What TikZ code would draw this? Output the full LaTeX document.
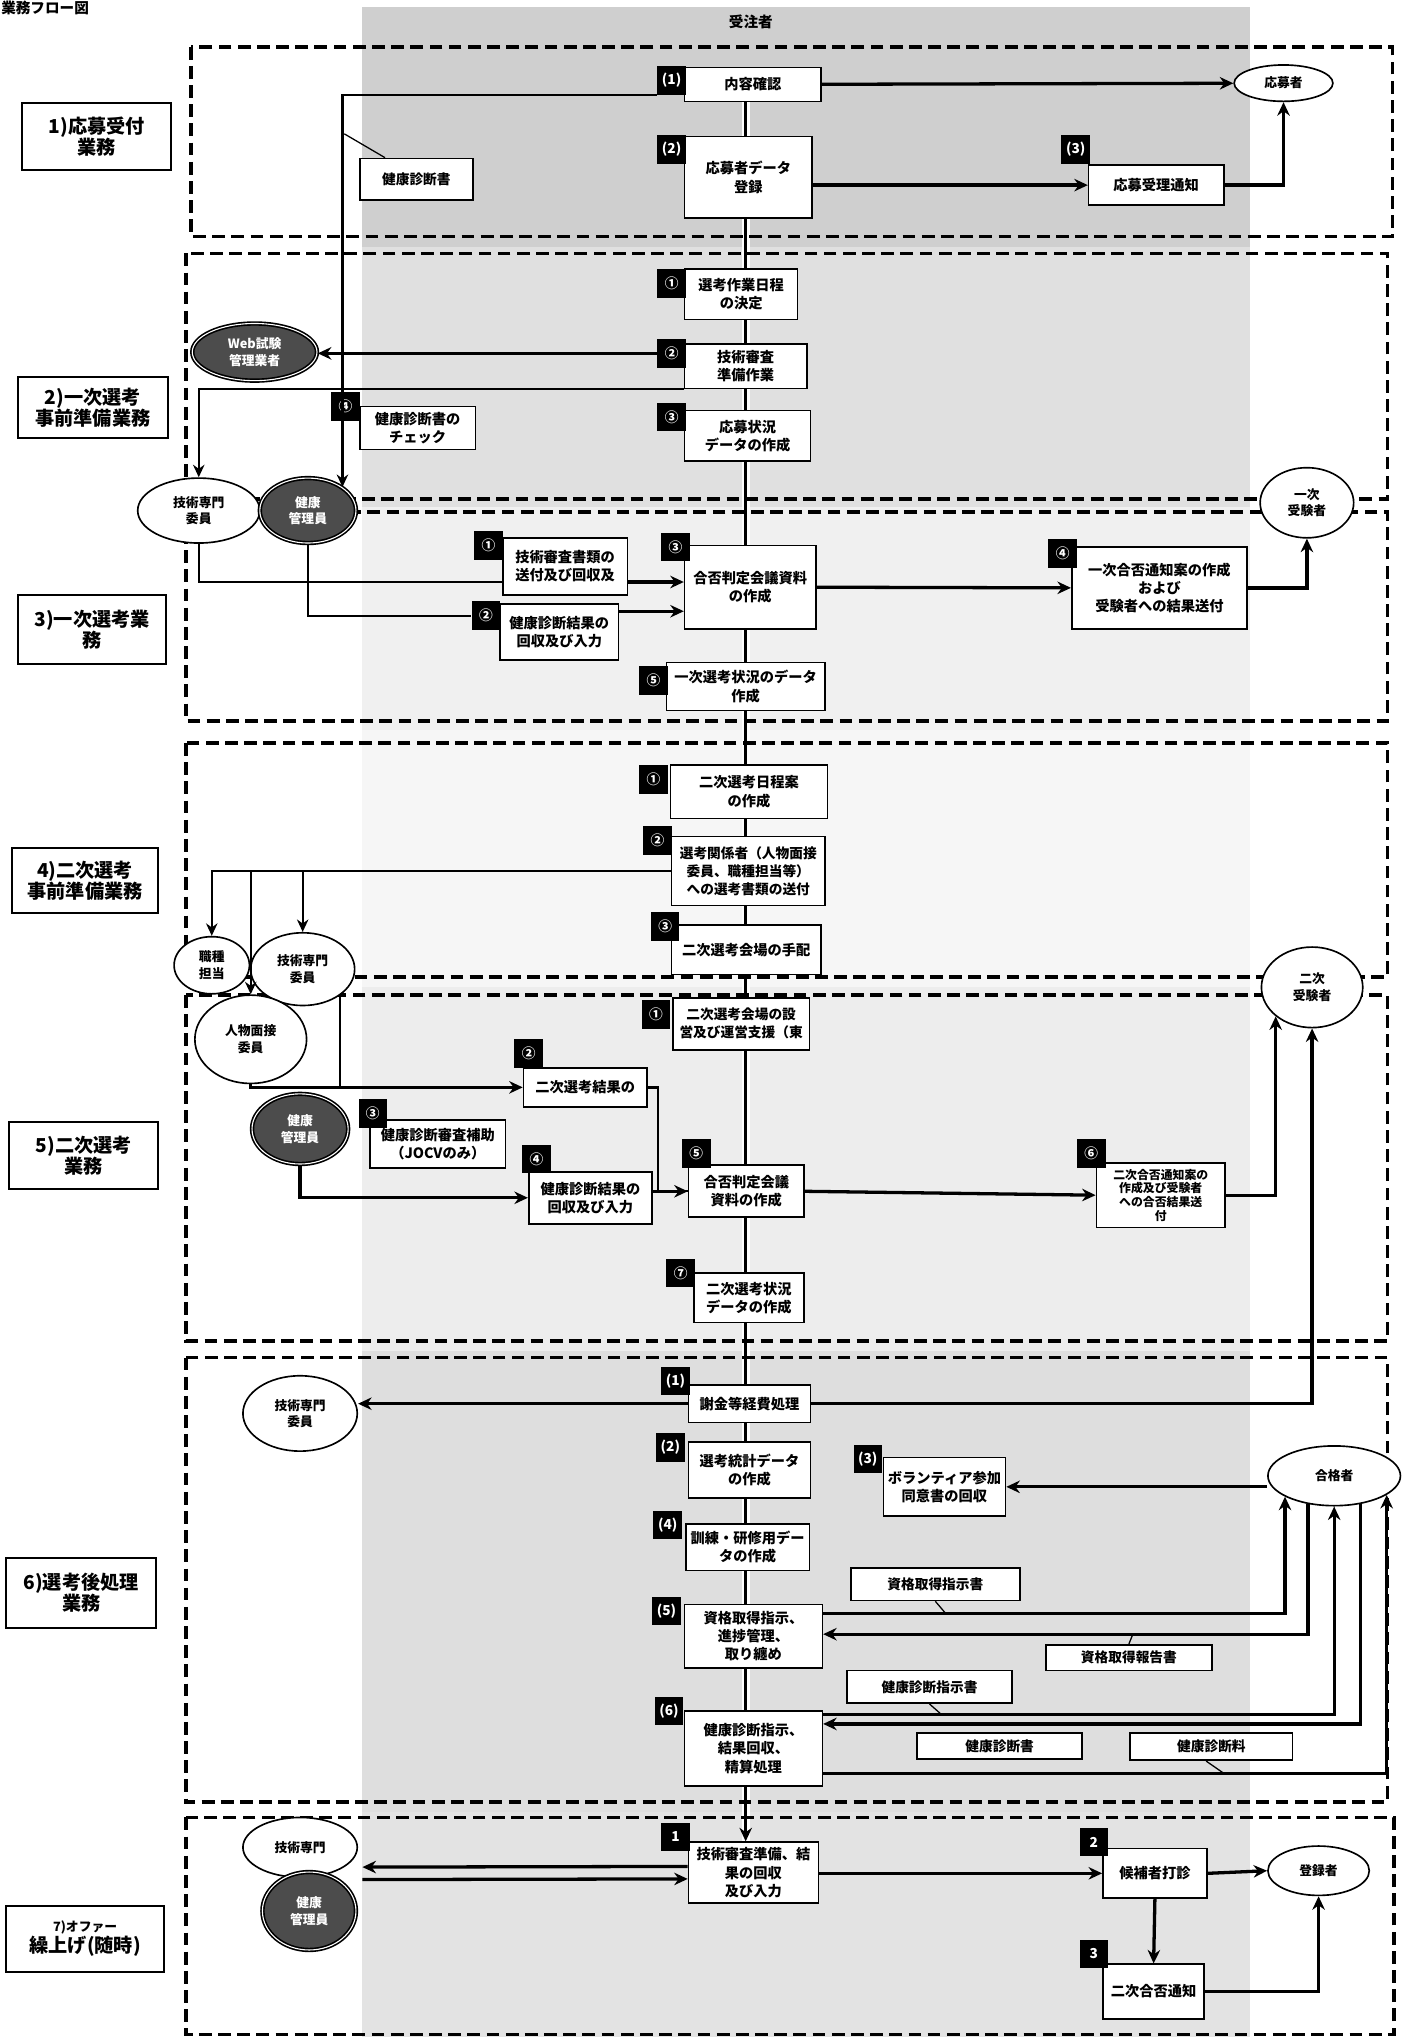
\documentclass[tikz,border=0pt]{standalone}
\usepackage{fontspec}
\setmainfont{Noto Sans CJK JP}
\usetikzlibrary{shapes.geometric,arrows.meta,backgrounds}
\tikzset{
  proc/.style={draw, line width=0.9pt, fill=white, align=center, inner sep=1pt, font=\bfseries\fontsize{7.8}{10}\selectfont},
  memo/.style={draw, line width=0.9pt, fill=white, align=center, inner sep=1pt, font=\bfseries\fontsize{7.5}{8}\selectfont},
  badge/.style={fill=black, text=white, minimum width=5.5mm, minimum height=5.5mm, inner sep=0pt, font=\bfseries\fontsize{7.5}{7.5}\selectfont},
  actor/.style={ellipse, draw, line width=0.9pt, fill=white, align=center, inner sep=0pt, font=\bfseries\fontsize{7}{9}\selectfont},
  darkactor/.style={actor, fill=gray!60!black, text=white, double=white, double distance=0.6pt},
  lane/.style={draw, line width=1.1pt, fill=white, align=center, inner sep=1pt, font=\bfseries\fontsize{10.5}{11.5}\selectfont},
  phase/.style={line width=2pt, dash pattern=on 7pt off 3.5pt},
  flow/.style={line width=1.8pt, -{Stealth[length=2.6mm, width=2.4mm]}},
  conn/.style={line width=1.3pt},
  headed/.style={-{Stealth[length=2.4mm, width=2.2mm]}},
  pointer/.style={line width=0.7pt}
}
\begin{document}
\begin{tikzpicture}[x=0.25mm, y=-0.25mm]
  \useasboundingbox (0,0) rectangle (1085,1568);
  % contractor band
  \begin{scope}[on background layer]
    \fill[white] (0,0) rectangle (1085,1568);
    \foreach \ya/\yb/\sh in {5/190/38, 190/390/24, 390/562/12, 562/760/7, 760/1040/14, 1040/1395/26, 1395/1568/22}
      \fill[gray!\sh] (279,\ya) rectangle (962,\yb);
  \end{scope}
  \node[anchor=north west, inner sep=0.5pt, font=\bfseries\fontsize{8}{8}\selectfont] (title) at (0,0) {業務フロー図};
  \node[font=\bfseries\fontsize{8}{8}\selectfont] (band) at (578,17) {受注者};

  % phases
  \draw[phase] (147,36) rectangle (1072,182);
  \draw[phase] (143,195) rectangle (1068,384);
  \draw[phase] (143,394) rectangle (1068,555);
  \draw[phase] (143,572) rectangle (1068,752);
  \draw[phase] (143,766) rectangle (1068,1032);
  \draw[phase] (143,1045) rectangle (1068,1387);
  \draw[phase] (143,1399) rectangle (1073,1566);

  % lane labels
  \node[lane, minimum width=28.75mm, minimum height=13mm] (lab1) at (74.5,105) {1)応募受付\\業務};
  \node[lane, minimum width=28.75mm, minimum height=11.75mm] (lab2) at (71.5,313.5) {2)一次選考\\事前準備業務};
  \node[lane, minimum width=28.5mm, minimum height=13.25mm] (lab3) at (71,484.5) {3)一次選考業\\務};
  \node[lane, minimum width=28.25mm, minimum height=12.5mm] (lab4) at (65.5,678) {4)二次選考\\事前準備業務};
  \node[lane, minimum width=28.75mm, minimum height=12.75mm] (lab5) at (64.5,889.5) {5)二次選考\\業務};
  \node[lane, minimum width=28.75mm, minimum height=13.5mm] (lab6) at (62.5,1226) {6)選考後処理\\業務};
  \node[lane, minimum width=30.25mm, minimum height=12.75mm] (lab7) at (65.5,1492.5) {{\fontsize{7}{8}\selectfont 7)オファー}\\繰上げ(随時)};

  % 1) application
  \node[proc, minimum width=26.25mm, minimum height=6.5mm] (p11) at (579.5,65) {内容確認};
  \node[badge] (b11) at (517,62) {(1)};
  \node[proc, minimum width=24.5mm, minimum height=15.75mm] (p12) at (576,136.5) {応募者データ\\登録};
  \node[badge] (b12) at (517,115) {(2)};
  \node[proc, minimum width=26mm, minimum height=7.75mm] (p13) at (890,142.5) {応募受理通知};
  \node[badge] (b13) at (828,115) {(3)};
  \node[actor, minimum width=19mm, minimum height=7mm] (a11) at (988,64) {応募者};
  \node[memo, minimum width=21.75mm, minimum height=8mm] (m11) at (320.5,138) {健康診断書};
  \coordinate (m11tip) at (265,103);
  \draw[flow] (p11) -- (a11);
  \draw[flow] (p12.east |- p13) -- (p13.west);
  \draw[flow] (p13.east) -| (a11.south);
  \draw[pointer] ([xshift=5mm]m11.north west) -- (m11tip);

  % 2) preparation of first selection
  \node[proc, minimum width=21.75mm, minimum height=9.75mm] (p21) at (570.5,226.5) {選考作業日程\\の決定};
  \node[badge] (b21) at (517,218) {①};
  \node[proc, minimum width=23.5mm, minimum height=8.5mm] (p22) at (574,282) {技術審査\\準備作業};
  \node[badge] (b22) at (517,272) {②};
  \node[proc, minimum width=24.25mm, minimum height=9.75mm] (p23) at (575.5,335.5) {応募状況\\データの作成};
  \node[badge] (b23) at (517,321) {③};
  \node[proc, minimum width=22.25mm, minimum height=8.25mm] (p24) at (321.5,329.5) {健康診断書の\\チェック};
  \node[badge] (b24) at (266,313) {④};
  \node[darkactor, minimum width=24mm, minimum height=11mm] (web) at (196,271) {Web試験\\管理業者};
  \node[actor, minimum width=23.5mm, minimum height=12.5mm] (t21) at (153,393) {技術専門\\委員};
  \node[darkactor, minimum width=18.5mm, minimum height=12.5mm] (h21) at (237,393) {健康\\管理員};
  \node[actor, minimum width=18mm, minimum height=13.5mm] (j1) at (1006,387) {一次\\受験者};
  \draw[conn, headed] ([yshift=-2.75mm]b11.west) -| (h21.north east);
  \draw[flow] (b22.west) -- (web.east |- b22.west);
  \draw[conn, headed] (p22.south west) -| (t21.north);

  % 3) first selection
  \node[proc, minimum width=24mm, minimum height=11mm] (p31) at (435,436) {技術審査書類の\\送付及び回収及};
  \node[badge] (b31) at (376,420) {①};
  \node[proc, minimum width=22.75mm, minimum height=10.75mm] (p32) at (430.5,486.5) {健康診断結果の\\回収及び入力};
  \node[badge] (b32) at (374,474) {②};
  \node[proc, minimum width=25.25mm, minimum height=16mm] (p33) at (577.5,452) {合否判定会議資料\\の作成};
  \node[badge] (b33) at (520,421) {③};
  \node[proc, minimum width=33.75mm, minimum height=15.75mm] (p34) at (892.5,452.5) {一次合否通知案の作成\\および\\受験者への結果送付};
  \node[badge] (b34) at (818,426) {④};
  \node[proc, minimum width=30.5mm, minimum height=9.25mm] (p35) at (574,528.5) {一次選考状況のデータ\\作成};
  \node[badge] (b35) at (503,524) {⑤};
  \draw[conn] (t21.south) |- ([yshift=-3mm]p31.west);
  \draw[flow] ([yshift=-3mm]p31.east) -- ([yshift=-3mm]p31.east -| p33.west);
  \draw[conn] (h21.south) |- (b32.west);
  \draw[flow] ([yshift=4mm]p32.east) -- ([yshift=4mm]p32.east -| p33.west);
  \draw[flow] (p33.east) -- (p34.west);
  \draw[flow] (p34.east) -| (j1.south);

  % 4) preparation of second selection
  \node[proc, minimum width=30.25mm, minimum height=10.25mm] (p41) at (576.5,609.5) {二次選考日程案\\の作成};
  \node[badge] (b41) at (503,600) {①};
  \node[proc, minimum width=29.5mm, minimum height=13.25mm, font=\bfseries\fontsize{7.5}{10}\selectfont] (p42) at (576,670.5) {選考関係者（人物面接\\委員、職種担当等）\\への選考書類の送付};
  \node[badge] (b42) at (506,647) {②};
  \node[proc, minimum width=28.75mm, minimum height=9.5mm] (p43) at (574.5,731) {二次選考会場の手配};
  \node[badge] (b43) at (512,713) {③};
  \node[actor, minimum width=14.5mm, minimum height=11mm] (s41) at (163,743) {職種\\担当};
  \node[actor, minimum width=20mm, minimum height=14mm] (t41) at (233,746) {技術専門\\委員};
  \node[actor, minimum width=21.5mm, minimum height=17mm] (i41) at (193,800) {人物面接\\委員};
  \node[actor, minimum width=19.5mm, minimum height=15.5mm] (n2) at (1010,760) {二次\\受験者};
  \draw[conn, headed] (p42.west) -| (s41.north);
  \draw[conn, headed] (p42.west -| i41.north) -- (i41.north);
  \draw[conn, headed] (p42.west -| t41.north) -- (t41.north);

  % 5) second selection
  \node[proc, minimum width=26.25mm, minimum height=10mm, font=\bfseries\fontsize{7.5}{10}\selectfont] (p51) at (570.5,788) {二次選考会場の設\\営及び運営支援（東};
  \node[badge] (b51) at (505,781) {①};
  \node[proc, minimum width=23.75mm, minimum height=7.5mm] (p52) at (450.5,837) {二次選考結果の};
  \node[badge] (b52) at (407,811) {②};
  \node[darkactor, minimum width=18.5mm, minimum height=13.5mm] (h51) at (231,869) {健康\\管理員};
  \node[proc, minimum width=26mm, minimum height=9.25mm] (p53) at (337,880.5) {健康診断審査補助\\（JOCVのみ）};
  \node[badge] (b53) at (287,857) {③};
  \node[proc, minimum width=23.75mm, minimum height=10mm] (p54) at (454.5,922) {健康診断結果の\\回収及び入力};
  \node[badge] (b54) at (413,892) {④};
  \node[proc, minimum width=22.25mm, minimum height=10mm] (p55) at (574.5,917) {合否判定会議\\資料の作成};
  \node[badge] (b55) at (536,888) {⑤};
  \node[proc, minimum width=24.75mm, minimum height=12.5mm, font=\bfseries\fontsize{6.5}{7.5}\selectfont] (p56) at (893.5,920) {二次合否通知案の\\作成及び受験者\\への合否結果送\\付};
  \node[badge] (b56) at (840,888) {⑥};
  \node[proc, minimum width=21.25mm, minimum height=9.5mm] (p57) at (576.5,999) {二次選考状況\\データの作成};
  \node[badge] (b57) at (524,980) {⑦};
  \draw[flow] (i41.south) |- (p52.west);
  \draw[conn] (t41.south east) -- (t41.south east |- p52.west);
  \draw[conn] (p52.east) -- ++(8,0) |- (p55.west);
  \draw[flow] (h51.south) |- (p54.west);
  \draw[flow] (p54.east |- p55.west) -- (p55.west);
  \draw[flow] (p55.east) -- (p56.west);
  \draw[flow] (p56.east) -| (n2.south west);

  % 6) after selection
  \node[actor, minimum width=22mm, minimum height=14.5mm] (t61) at (231,1088) {技術専門\\委員};
  \node[proc, minimum width=23.5mm, minimum height=7.25mm] (p61) at (577,1080.5) {謝金等経費処理};
  \node[badge] (b61) at (520,1063) {(1)};
  \node[proc, minimum width=23.5mm, minimum height=10.75mm] (p62) at (577,1131.5) {選考統計データ\\の作成};
  \node[badge] (b62) at (516,1114) {(2)};
  \node[proc, minimum width=23.5mm, minimum height=11.25mm] (p63) at (727,1144.5) {ボランティア参加\\同意書の回収};
  \node[badge] (b63) at (668,1123) {(3)};
  \node[actor, minimum width=25.5mm, minimum height=11.5mm] (g6) at (1027,1136) {合格者};
  \node[proc, minimum width=23.75mm, minimum height=9mm] (p64) at (575.5,1191) {訓練・研修用デー\\タの作成};
  \node[badge] (b64) at (514,1174) {(4)};
  \node[proc, minimum width=26.5mm, minimum height=12.25mm] (p65) at (580,1259.5) {資格取得指示、\\進捗管理、\\取り纏め};
  \node[badge] (b65) at (513,1240) {(5)};
  \node[proc, minimum width=26.5mm, minimum height=14.5mm] (p66) at (580,1346) {健康診断指示、\\結果回収、\\精算処理};
  \node[badge] (b66) at (515,1317) {(6)};
  \node[memo, minimum width=32.5mm, minimum height=6.25mm] (m61) at (720,1219.5) {資格取得指示書};
  \node[memo, minimum width=32mm, minimum height=5mm] (m62) at (869,1276) {資格取得報告書};
  \node[memo, minimum width=31.75mm, minimum height=6.25mm] (m63) at (715.5,1298.5) {健康診断指示書};
  \node[memo, minimum width=31.75mm, minimum height=5mm] (m64) at (769.5,1344) {健康診断書};
  \node[memo, minimum width=31.25mm, minimum height=5.25mm] (m65) at (932.5,1344.5) {健康診断料};
  \coordinate (m61tip) at (728,1242);
  \coordinate (m62tip) at (872,1258);
  \coordinate (m63tip) at (725,1320);
  \coordinate (m65tip) at (942,1365);
  \draw[flow] (p61.west) -- (p61.west -| t61.east);
  \draw[flow] (p61.east) -| (n2.south);
  \draw[flow] (g6.west |- p63) -- (p63.east);
  \draw[flow] ([yshift=4.4mm]p65.east) -| (g6.203);
  \draw[flow] (g6.227) |- ([yshift=0.4mm]p65.east);
  \draw[flow] ([yshift=6.5mm]p66.east) -| (g6.south);
  \draw[flow] (g6.313) |- ([yshift=4.75mm]p66.east);
  \draw[flow] ([yshift=-4.75mm]p66.east) -| (g6.340);
  \draw[pointer] (m61.south) -- (m61tip);
  \draw[pointer] (m62.north) -- (m62tip);
  \draw[pointer] (m63.south) -- (m63tip);
  \draw[pointer] ([xshift=-1mm]m65.south) -- (m65tip);

  % 7) offer
  \node[actor, minimum width=22mm, minimum height=11.5mm] (t71) at (231,1422) {技術専門};
  \node[darkactor, minimum width=18mm, minimum height=15mm] (h71) at (238,1471) {健康\\管理員};
  \node[proc, minimum width=25mm, minimum height=11.75mm] (p71) at (580,1441.5) {技術審査準備、結\\果の回収\\及び入力};
  \node[badge] (b71) at (520,1414) {1};
  \node[proc, minimum width=20mm, minimum height=9.5mm] (p72) at (889,1442) {候補者打診};
  \node[badge] (b72) at (842,1418) {2};
  \node[proc, minimum width=19.5mm, minimum height=10.5mm] (p73) at (888,1533) {二次合否通知};
  \node[badge] (b73) at (842,1504) {3};
  \node[actor, minimum width=19.5mm, minimum height=9.5mm] (r7) at (1015,1440) {登録者};
  \coordinate (w7) at (279,1442);
  \draw[flow] ([yshift=1.2mm]p71.west) -- ([yshift=1.2mm]w7);
  \draw[flow] ([yshift=-1.2mm]w7) -- ([yshift=-1.2mm]p71.west);
  \draw[flow] (p71.east |- p72.west) -- (p72.west);
  \draw[flow] (p72.east) -- (r7.west);
  \draw[flow] (p72.south) -- (p73.north);
  \draw[flow] (p73.east) -| (r7.south);

  % main trunk behind the boxes
  \coordinate (trunktop) at (574,78);
  \begin{scope}[on background layer]
    \draw[white, line width=4.5pt] (trunktop) -- (trunktop |- p71.north);
    \draw[line width=1.6pt, -{Stealth[length=2.6mm, width=2.4mm]}] (trunktop) -- (trunktop |- p71.north);
  \end{scope}
\end{tikzpicture}
\end{document}
